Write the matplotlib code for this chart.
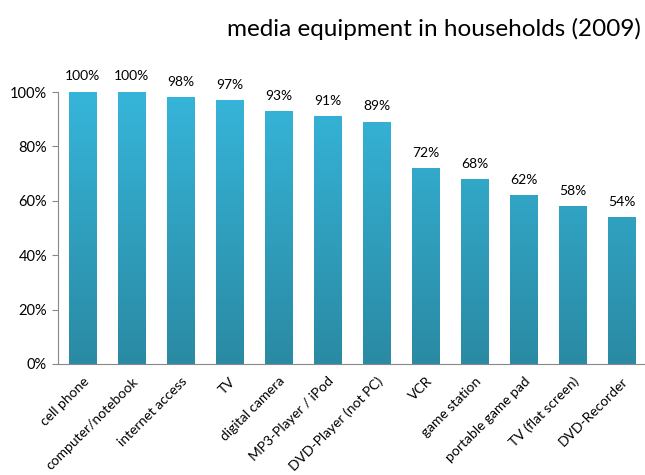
import numpy as np
import matplotlib.pyplot as plt
from matplotlib.colors import LinearSegmentedColormap

categorias = ["cell phone", "computer/notebook", "internet access", "TV",
              "digital camera", "MP3-Player / iPod", "DVD-Player (not PC)",
              "VCR", "game station", "portable game pad", "TV (flat screen)",
              "DVD-Recorder"]
valores = [100, 100, 98, 97, 93, 91, 89, 72, 68, 62, 58, 54]
ticks_y = [0, 20, 40, 60, 80, 100]

plt.rcParams['font.family'] = ['Lato', 'DejaVu Sans']

fig = plt.figure(figsize=(6.45, 4.75), dpi=100)
ax = fig.add_axes([0.09, 0.2337, 0.912, 0.5726])

degradado = LinearSegmentedColormap.from_list("azul", ["#2a8aa3", "#36b5da"])
x = np.arange(len(categorias))
barras = ax.bar(x, valores, width=0.57, color="none", edgecolor="none")
for b in barras:
    img = ax.imshow(np.linspace(0, 1, 256).reshape(-1, 1), cmap=degradado,
                    origin="lower", aspect="auto",
                    extent=[b.get_x(), b.get_x() + b.get_width(), 0, 100])
    img.set_clip_path(b)

for xi, v in zip(x, valores):
    ax.text(xi, v + 3.5, f"{v}%", ha="center", va="bottom", fontsize=10)

ax.set_xlim(-0.5, len(categorias) - 0.5)
ax.set_ylim(0, 100)
ax.set_yticks(ticks_y)
ax.set_yticklabels([f"{t}%" for t in ticks_y], fontsize=10.5)
ax.set_xticks(x)
ax.set_xticklabels(categorias, rotation=45, ha="right", rotation_mode="anchor",
                   fontsize=10)
ax.tick_params(axis="x", length=0, pad=8)
ax.tick_params(axis="y", length=4, color="#888888", pad=4)
for s in ["top", "right"]:
    ax.spines[s].set_visible(False)
for s in ["left", "bottom"]:
    ax.spines[s].set_color("#888888")

fig.text(0.993, 0.94, "media equipment in households (2009)", ha="right",
         va="center", fontsize=17.5)

fig.savefig("out.png", dpi=100)
